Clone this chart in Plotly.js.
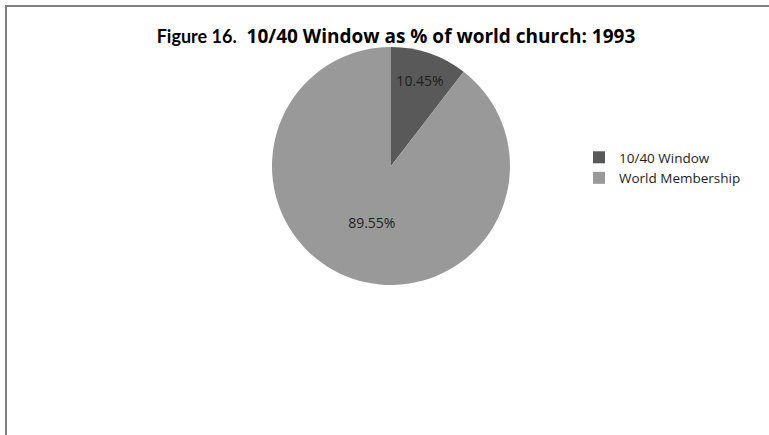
<!DOCTYPE html>
<html><head><meta charset="utf-8">
<script src="https://cdn.plot.ly/plotly-3.0.1.min.js"></script>
<style>html,body{margin:0;padding:0;background:#fff}#c{width:769px;height:435px}</style>
</head><body><div id="c"></div>
<script>
const categories = ["10/40 Window", "World Membership"];
const shares = [10.45, 89.55];
const sliceColors = ["#595959", "#999999"];

const trace = {
  type: "pie",
  labels: categories,
  values: shares,
  sort: false,
  direction: "clockwise",
  rotation: 0,
  marker: {colors: sliceColors, line: {width: 0}},
  texttemplate: "%{value:.2f}%",
  textposition: "inside",
  insidetextorientation: "horizontal",
  textfont: {family: "Open Sans, Noto Sans, sans-serif", size: 14, color: "#1e1e1e"},
  hoverinfo: "label+percent",
  domain: {x: [272/769, 510/769], y: [1 - 285/435, 1 - 47/435]}
};

const layout = {
  width: 769, height: 435,
  margin: {l: 0, r: 0, t: 0, b: 0},
  paper_bgcolor: "#fff",
  title: {
    text: "<span style='font-family:Lato,sans-serif;font-size:18px'>Figure 16.</span>  10/40 Window as % of world church: 1993",
    x: 396/769, xanchor: "center", y: 1 - 36/435, yanchor: "middle",
    font: {family: "Open Sans, Noto Sans, sans-serif", size: 19, color: "#000", weight: "bold"}
  },
  showlegend: true,
  legend: {
    x: 579/769, xanchor: "left", y: 1 - 142/435, yanchor: "top",
    font: {family: "Open Sans, Noto Sans, sans-serif", size: 13.5, color: "#1e1e1e"},
    itemwidth: 30, tracegroupgap: 0, bgcolor: "rgba(0,0,0,0)"
  },
  shapes: [
    {type: "line", xref: "paper", yref: "paper", x0: 5/769, x1: 1, y0: 1 - 6/435, y1: 1 - 6/435, line: {color: "#808080", width: 2}},
    {type: "line", xref: "paper", yref: "paper", x0: 6/769, x1: 6/769, y0: 0, y1: 1 - 6/435, line: {color: "#808080", width: 2}}
  ]
};

Plotly.newPlot("c", [trace], layout, {displayModeBar: false, staticPlot: true});
</script></body></html>
